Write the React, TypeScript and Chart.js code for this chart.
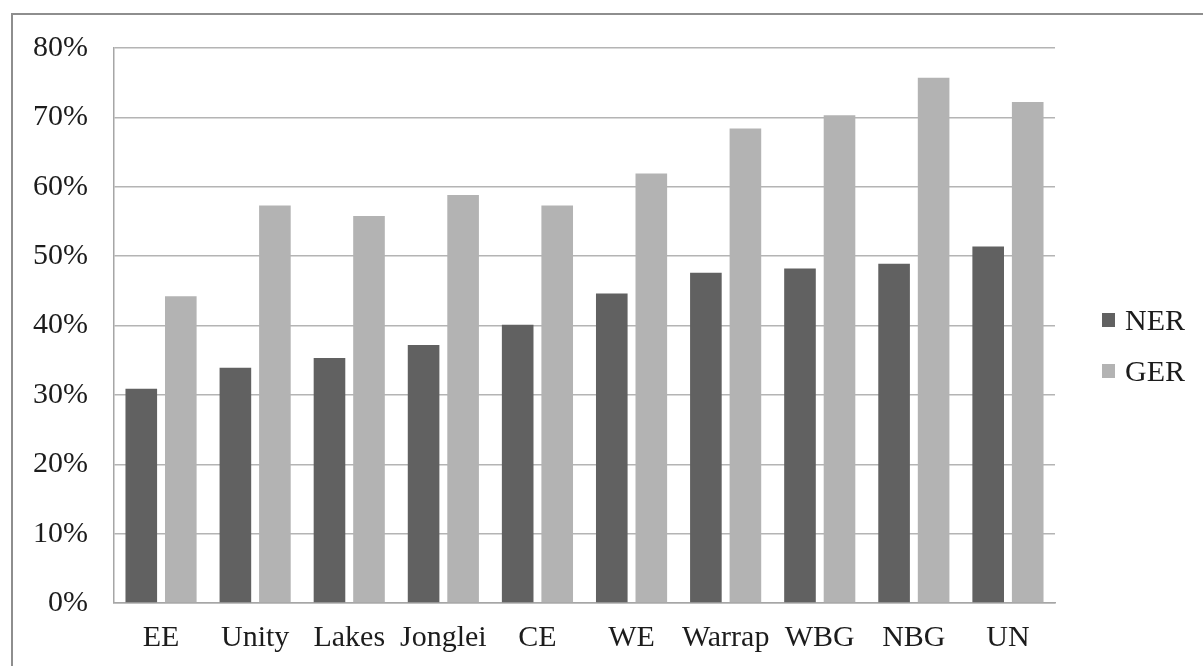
import React, { useEffect, useRef } from 'react';
import { Chart, registerables } from 'chart.js';

Chart.register(...registerables);

const categories = ['EE', 'Unity', 'Lakes', 'Jonglei', 'CE', 'WE', 'Warrap', 'WBG', 'NBG', 'UN'];
const nerValues = [30.9, 33.9, 35.3, 37.2, 40.1, 44.6, 47.6, 48.2, 48.9, 51.4];
const gerValues = [44.2, 57.3, 55.8, 58.8, 57.3, 61.9, 68.4, 70.3, 75.7, 72.2];
const seriesNames = ['NER', 'GER'];
const seriesColors = ['#616161', '#b3b3b3'];
const yMin = 0;
const yMax = 80;
const yStep = 10;

const FONT = '"Liberation Serif", "Times New Roman", serif';
const TEXT = '#1c1c1c';

const sideLegend = {
  id: 'sideLegend',
  afterDraw(chart: any) {
    const ctx = chart.ctx;
    ctx.save();
    ctx.font = `30px ${FONT}`;
    ctx.textBaseline = 'alphabetic';
    ctx.textAlign = 'left';
    chart.data.datasets.forEach((ds: any, i: number) => {
      const cy = 320 + i * 51;
      ctx.fillStyle = ds.backgroundColor;
      ctx.fillRect(1102, cy - 7, 13, 14);
      ctx.fillStyle = TEXT;
      ctx.fillText(ds.label, 1125, cy + 10);
    });
    ctx.restore();
  },
};

export default function App() {
  const ref = useRef<HTMLCanvasElement>(null);

  useEffect(() => {
    if (!ref.current) return;
    const chart = new Chart(ref.current, {
      type: 'bar',
      data: {
        labels: categories,
        datasets: [
          {
            label: seriesNames[0],
            data: nerValues,
            backgroundColor: seriesColors[0],
            categoryPercentage: 0.84,
            barPercentage: 0.8,
          },
          {
            label: seriesNames[1],
            data: gerValues,
            backgroundColor: seriesColors[1],
            categoryPercentage: 0.84,
            barPercentage: 0.8,
          },
        ],
      },
      options: {
        animation: false,
        responsive: false,
        maintainAspectRatio: false,
        layout: { padding: { left: 7, top: 48, right: 148, bottom: 0 } },
        plugins: {
          legend: { display: false },
          tooltip: { enabled: false },
          title: { display: false },
        },
        scales: {
          x: {
            grid: { display: false, drawTicks: false },
            border: { display: true, color: '#a6a6a6', width: 1.5 },
            ticks: {
              color: TEXT,
              font: { family: FONT, size: 30 },
              padding: 17,
              maxRotation: 0,
              autoSkip: false,
            },
            afterFit: (scale: any) => {
              scale.height = 63;
            },
          },
          y: {
            min: yMin,
            max: yMax,
            grid: { color: '#b4b4b4', lineWidth: 1.5, drawTicks: false },
            border: { display: true, color: '#a6a6a6', width: 1.5 },
            ticks: {
              stepSize: yStep,
              color: TEXT,
              font: { family: FONT, size: 30 },
              padding: 26,
              callback: (v: any) => `${v}%`,
            },
          },
        },
      },
      plugins: [sideLegend],
    });
    return () => chart.destroy();
  }, []);

  return (
    <div style={{ position: 'fixed', left: 0, top: 0, width: 1203, height: 666, background: '#fff', overflow: 'hidden' }}>
      <div
        style={{
          position: 'absolute',
          left: 11,
          top: 13,
          width: 1400,
          height: 900,
          border: '2px solid #8e8e8e',
          boxSizing: 'border-box',
        }}
      />
      <canvas ref={ref} width={1203} height={666} style={{ position: 'absolute', left: 0, top: 0, width: 1203, height: 666 }} />
    </div>
  );
}
